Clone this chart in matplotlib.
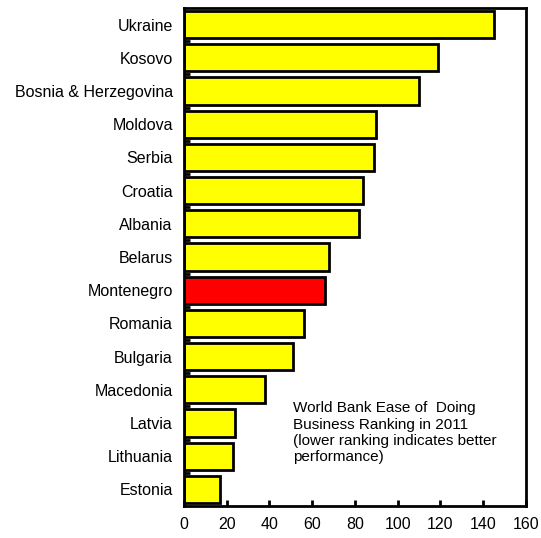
import matplotlib
matplotlib.use("Agg")
import matplotlib.pyplot as plt
import numpy as np

plt.rcParams['font.family'] = ['Liberation Sans', 'DejaVu Sans']

countries = ["Ukraine", "Kosovo", "Bosnia & Herzegovina", "Moldova", "Serbia", "Croatia",
             "Albania", "Belarus", "Montenegro", "Romania", "Bulgaria", "Macedonia",
             "Latvia", "Lithuania", "Estonia"]
ranking = [145, 119, 110, 90, 89, 84, 82, 68, 66, 56, 51, 38, 24, 23, 17]
highlight = "Montenegro"
xticks = [0, 20, 40, 60, 80, 100, 120, 140, 160]

fig = plt.figure(figsize=(5.41, 5.38), dpi=100)
ax = fig.add_axes([0.340, 0.0595, 0.632, 0.9255])

n = len(countries)
ypos = np.arange(n)[::-1]
colors = ["#FF0000" if c == highlight else "#FFFF00" for c in countries]
ax.barh(ypos, ranking, height=0.82, color=colors, edgecolor="black", linewidth=2)

ax.set_xlim(0, 160)
ax.set_ylim(-0.5, n - 0.5)
ax.set_xticks(xticks)
ax.set_xticklabels([str(t) for t in xticks], fontsize=11.5)
ax.set_yticks(ypos)
ax.set_yticklabels(countries, fontsize=11.5)
ax.tick_params(axis='y', length=0, pad=8)
ax.tick_params(axis='x', direction='in', length=4, width=2, pad=8)
ax.set_yticks(np.arange(n - 1) + 0.5, minor=True)
ax.tick_params(axis='y', which='minor', direction='in', length=4, width=2)
for s in ax.spines.values():
    s.set_linewidth(2)

ax.text(0.319, 0.147, "World Bank Ease of  Doing\nBusiness Ranking in 2011\n(lower ranking indicates better\nperformance)",
        transform=ax.transAxes, fontsize=11, va='center', ha='left', linespacing=1.2)

fig.savefig("out.png", dpi=100)
